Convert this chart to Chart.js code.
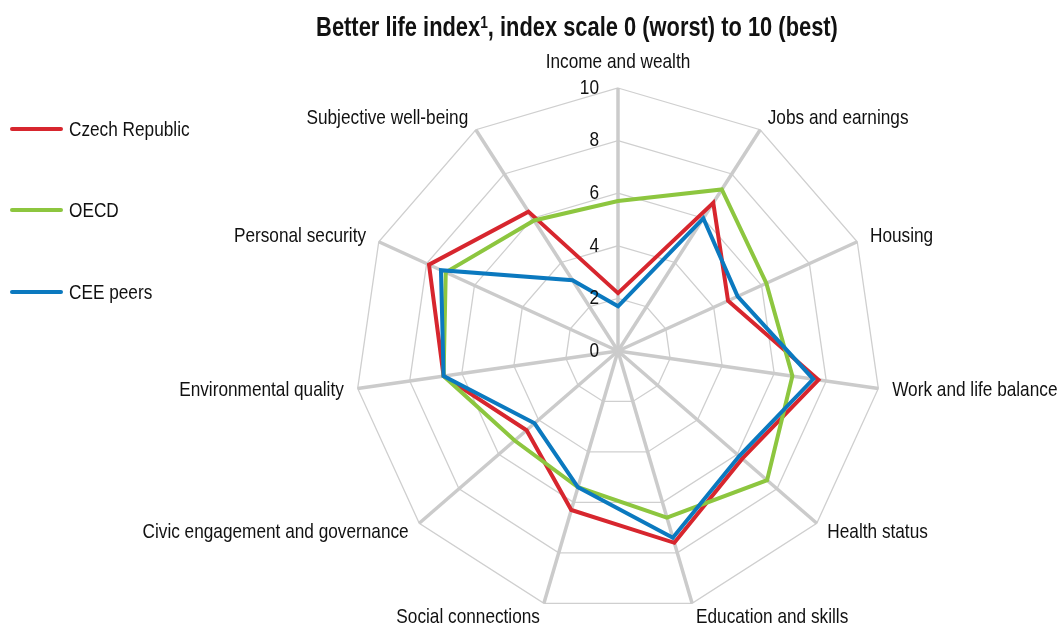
<!DOCTYPE html>
<html>
<head>
<meta charset="utf-8">
<script src="https://cdn.jsdelivr.net/npm/chart.js@4"></script>
<style>
  body { margin: 0; background: #fff; font-family: 'Liberation Sans Narrow', 'Arial Narrow', 'Liberation Sans', sans-serif; }
  #wrap { position: relative; width: 1063px; height: 626px; }
  #title { position: absolute; left: 577px; top: 12px; white-space: nowrap; font-weight: bold; font-size: 27px; color: #111;
           transform: translateX(-50%) scaleX(0.81); }
  #title sup { font-size: 17px; vertical-align: 8px; line-height: 0; }
  .leg { position: absolute; left: 10px; white-space: nowrap; color: #111; font-size: 21px; }
  .leg span { display: inline-block; width: 53px; height: 4px; border-radius: 2px; vertical-align: middle; margin-right: 6px; position: relative; top: -1px; }
  .leg b { display: inline-block; font-weight: normal; transform: scaleX(0.82); transform-origin: left center; }
  canvas { position: absolute; left: 0; top: 0; }
</style>
</head>
<body>
<div id="wrap">
  <canvas id="radar" width="1063" height="626"></canvas>
  <div id="title">Better life index<sup>1</sup>, index scale 0 (worst) to 10 (best)</div>
  <div class="leg" style="top:117px"><span style="background:#d7262e"></span><b>Czech Republic</b></div>
  <div class="leg" style="top:198px"><span style="background:#8dc63f"></span><b>OECD</b></div>
  <div class="leg" style="top:280px"><span style="background:#0b79bf"></span><b>CEE peers</b></div>
</div>
<script>
const categories = ["Income and wealth", "Jobs and earnings", "Housing", "Work and life balance",
    "Health status", "Education and skills", "Social connections", "Civic engagement and governance",
    "Environmental quality", "Personal security", "Subjective well-being"];
const czech = [2.2, 6.7, 4.6, 7.7, 6.25, 7.6, 6.3, 4.6, 6.7, 7.9, 6.3];
const oecd = [5.7, 7.3, 6.2, 6.7, 7.5, 6.6, 5.4, 5.2, 6.7, 7.2, 5.9];
const ceePeers = [1.7, 6.0, 5.0, 7.5, 6.1, 7.4, 5.4, 4.2, 6.7, 7.4, 3.2];
const tickValues = [0, 2, 4, 6, 8, 10];

const FONT = "'Liberation Sans Narrow', 'Arial Narrow', 'Liberation Sans', sans-serif";
const NARROW = 0.82;

// narrow text: no condensed font installed, so squeeze the normal one
function narrowText(ctx, text, x, y) {
    ctx.save();
    ctx.translate(x, y);
    ctx.scale(NARROW, 1);
    ctx.fillText(text, 0, 0);
    ctx.restore();
}

// draws the axis labels and the tick numbers next to the vertical axis
const labelPlugin = {
    id: 'labelPlugin',
    afterDatasetsDraw(chart) {
        const scale = chart.scales.r;
        const ctx = chart.ctx;
        ctx.save();
        ctx.fillStyle = '#111';
        ctx.font = '21px ' + FONT;
        ctx.textBaseline = 'middle';
        for (let i = 0; i < categories.length; i++) {
            let p = scale.getPointPosition(i, scale.drawingArea + 14);
            let align = 'center';
            if (p.x > scale.xCenter + 5) align = 'left';
            else if (p.x < scale.xCenter - 5) align = 'right';
            let y = p.y;
            if (i == 0) y = p.y - 12;
            ctx.textAlign = align;
            narrowText(ctx, categories[i], p.x, y);
        }
        ctx.textAlign = 'right';
        for (const v of tickValues) {
            const d = scale.getDistanceFromCenterForValue(v);
            narrowText(ctx, String(v), scale.xCenter - 19, scale.yCenter - d);
        }
        ctx.restore();
    }
};

new Chart(document.getElementById('radar').getContext('2d'), {
    type: 'radar',
    data: {
        labels: categories,
        datasets: [
            { label: 'Czech Republic', data: czech, borderColor: '#d7262e', order: 3 },
            { label: 'OECD', data: oecd, borderColor: '#8dc63f', order: 2 },
            { label: 'CEE peers', data: ceePeers, borderColor: '#0b79bf', order: 1 }
        ]
    },
    options: {
        responsive: false,
        animation: false,
        devicePixelRatio: 1,
        layout: { padding: { left: 355, top: 88, right: 182, bottom: 12 } },
        elements: {
            line: { borderWidth: 4, fill: false, tension: 0, borderJoinStyle: 'miter' },
            point: { radius: 0, hoverRadius: 0 }
        },
        scales: {
            r: {
                min: 0,
                max: 10,
                ticks: { display: false, stepSize: 2 },
                pointLabels: { display: false },
                grid: { color: '#cfcfcf', lineWidth: 1.3 },
                angleLines: { color: '#cbcbcb', lineWidth: 3.5 }
            }
        },
        plugins: {
            legend: { display: false },
            title: { display: false },
            tooltip: { enabled: false }
        }
    },
    plugins: [labelPlugin]
});
</script>
</body>
</html>
